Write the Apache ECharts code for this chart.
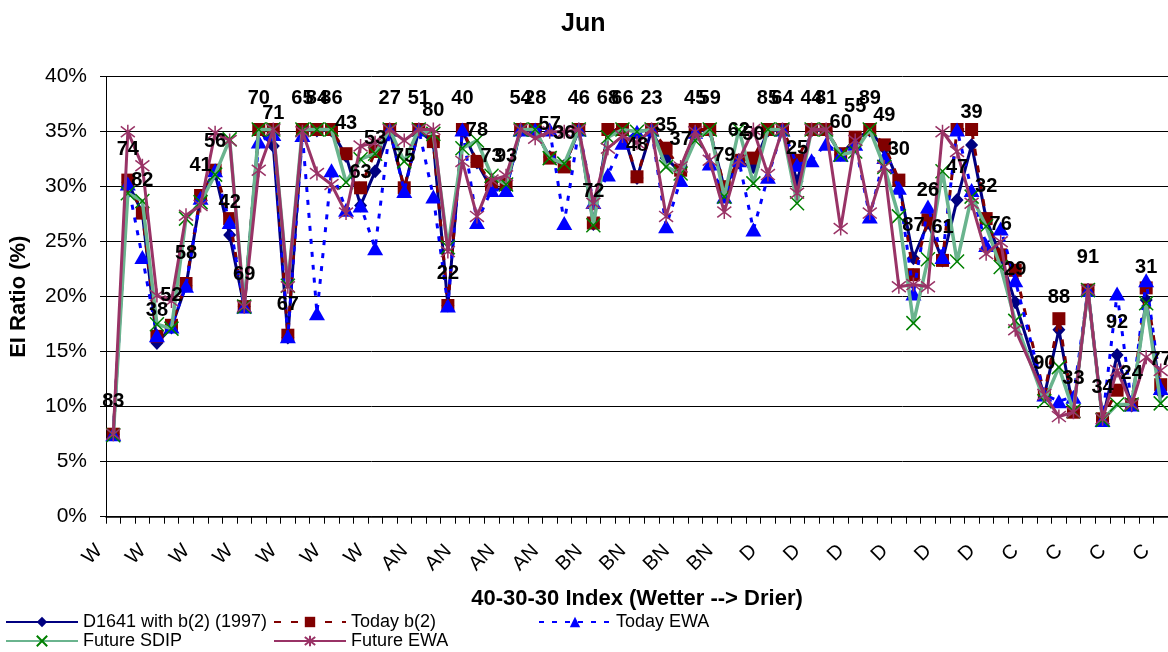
<!DOCTYPE html>
<html><head><meta charset="utf-8">
<script src="https://cdn.jsdelivr.net/npm/echarts@6/dist/echarts.min.js"></script>
<style>html,body{margin:0;padding:0;background:#fff}#c{width:1168px;height:652px}</style>
</head><body><div id="c"></div>
<script>
// Water years (two-digit) sorted by 40-30-30 index, wetter -> drier
const years = ['83','74','82','38','52','58','41','56','42','69','70','71','67','65','84','86','43','63','53','27','75',
 '51','80','22','40','78','73','93','54','28','57','36','46','72','68','66','48','23','35','37','45','59','79','62','50',
 '85','64','25','44','81','60','55','89','49','30','87','26','61','47','39','32','76','29','94','90','88','33','91','34','92','24','31','77'];
// Year type tick labels (shown every 3rd category)
const yearTypes = ['W','W','W','W','W','W','W','W','W','W','W','W','W','W','W','W','W','W','W','W','W',
 'AN','AN','AN','AN','AN','AN','AN','AN','AN','AN','AN','BN','BN','BN','BN','BN','BN','BN','BN','BN','BN','BN','BN',
 'D','D','D','D','D','D','D','D','D','D','D','D','D','D','D','D','D','D','C','C','C','C','C','C','C','C','C','C','C'];
const yTickLabels = ['0%','5%','10%','15%','20%','25%','30%','35%','40%'];
const seriesNames = ['D1641 with b(2) (1997)','Today b(2)','Today EWA','Future SDIP','Future EWA'];

const d1641 = [7.5,30.4,27.6,15.8,17.2,21.0,29.0,31.2,25.6,19.1,35.1,33.7,16.3,35.1,35.1,35.1,32.8,28.3,31.4,35.1,29.8,
 35.1,34.0,19.2,35.1,32.2,29.8,29.8,35.1,35.1,32.7,31.9,35.1,26.6,35.1,35.1,30.8,35.1,32.6,31.3,35.1,35.1,29.9,32.2,31.8,
 35.1,35.1,30.5,35.1,35.1,32.9,34.3,35.1,33.5,30.4,23.5,26.7,23.3,28.8,33.8,27.1,23.6,19.5,null,11.0,17.0,9.6,20.6,8.8,14.7,10.1,19.7,11.3];
const todayB2 = [7.5,30.6,27.6,16.4,17.4,21.2,29.2,31.5,27.1,19.1,35.2,35.2,16.5,35.2,35.2,35.2,33.0,29.9,33.2,35.2,29.9,
 35.2,34.1,19.2,35.2,32.3,30.2,30.2,35.2,35.2,32.6,31.8,35.2,26.7,35.2,35.2,30.9,35.2,33.5,31.5,35.2,35.2,30.0,32.4,32.6,
 35.2,35.2,32.4,35.2,35.2,33.0,34.5,35.2,33.8,30.6,22.0,27.0,23.3,35.2,35.2,27.1,23.8,22.4,null,11.1,18.0,9.5,20.6,8.9,11.5,10.2,20.8,12.0];
const todayEWA = [7.5,30.3,23.6,16.5,17.3,21.0,29.0,31.5,26.8,19.1,34.1,34.8,16.4,34.7,18.5,31.5,27.9,28.3,24.4,35.2,29.6,
 35.2,29.1,19.2,35.2,26.8,29.7,29.7,35.2,35.2,35.2,26.7,35.2,28.6,31.1,34.0,35.0,35.2,26.4,30.6,35.0,32.1,29.1,32.4,26.1,
 30.9,35.2,32.0,32.4,33.9,32.9,33.9,27.3,32.7,29.9,20.3,28.2,23.6,35.2,29.7,24.7,26.2,21.5,null,11.1,10.5,10.9,20.6,8.8,20.3,10.2,21.5,11.7];
const futureSDIP = [7.4,29.4,28.7,17.5,17.1,27.1,28.6,31.1,34.3,19.1,35.2,35.2,21.0,35.2,35.2,35.2,30.4,32.5,33.0,35.2,32.3,
 35.2,34.8,24.5,33.5,34.2,31.0,30.2,35.2,35.2,32.6,32.1,35.2,26.5,34.5,35.2,35.0,35.2,31.8,31.2,34.2,35.2,29.1,35.2,30.3,
 35.2,35.2,28.5,35.2,35.2,32.9,33.2,35.2,31.8,27.3,17.6,23.4,31.4,23.2,29.1,26.4,22.7,17.8,null,10.5,13.6,9.6,20.6,8.8,10.2,10.2,19.4,10.3];
const futureEWA = [7.5,35.0,31.9,20.1,19.6,27.4,28.3,34.9,34.2,19.1,31.5,35.2,20.9,35.0,31.2,30.2,27.6,33.7,34.0,35.2,34.2,
 35.2,35.2,24.1,32.3,27.3,30.6,31.0,35.2,34.4,35.0,35.0,35.2,28.5,33.5,34.6,34.0,35.2,27.3,31.8,35.0,32.4,27.7,32.4,35.2,
 31.1,35.2,29.4,35.2,35.2,26.2,34.2,27.6,31.8,20.9,21.1,20.9,35.0,33.2,28.5,23.9,25.0,17.0,null,11.1,9.1,9.5,20.6,8.9,13.3,10.2,14.5,13.3];

const F = '"Liberation Sans", Arial, Helvetica, sans-serif';
const chart = echarts.init(document.getElementById('c'), null, {renderer: 'canvas'});

const xPath = 'path://M0,0L10,10M10,0L0,10';
const starPath = 'path://M0,0L10,10M10,0L0,10M5,-1.5L5,11.5';

function legendAt(name, left, top) {
  return {
    data: [name], left: left, top: top, orient: 'horizontal',
    itemWidth: 72, itemHeight: 13, itemGap: 0, padding: 0,
    textStyle: {fontFamily: F, fontSize: 18, color: '#000', padding: [0, 0, 0, 0]},
    selectedMode: false
  };
}

const option = {
  backgroundColor: '#fff',
  animation: false,
  title: {text: 'Jun', left: 556, top: 7,
    textStyle: {fontFamily: F, fontSize: 25, fontWeight: 'bold', color: '#000'}},
  legend: [
    legendAt(seriesNames[0], 5, 613),
    legendAt(seriesNames[1], 273, 613),
    legendAt(seriesNames[2], 538, 613),
    legendAt(seriesNames[3], 5, 632),
    legendAt(seriesNames[4], 273, 632)
  ],
  grid: {left: 105.7, top: 76.7, height: 440, width: 73 * 14.59, containLabel: false},
  xAxis: {
    type: 'category', data: years, boundaryGap: true,
    name: '40-30-30 Index (Wetter --> Drier)', nameLocation: 'middle', nameGap: 71,
    nameTextStyle: {fontFamily: F, fontSize: 22, fontWeight: 'bold', color: '#000'},
    axisLine: {lineStyle: {color: '#000', width: 1.5}},
    axisTick: {show: true, interval: 0, length: 7, lineStyle: {color: '#000', width: 1}},
    axisLabel: {interval: 2, rotate: 45, margin: 17, padding: [0, 20, 0, 0],
      fontFamily: F, fontSize: 20, color: '#000',
      formatter: (v, i) => yearTypes[i]},
    splitLine: {show: false}
  },
  yAxis: {
    type: 'value', min: 0, max: 40, interval: 5,
    name: 'EI Ratio (%)', nameLocation: 'middle', nameGap: 76, nameRotate: 90,
    nameTextStyle: {fontFamily: F, fontSize: 22, fontWeight: 'bold', color: '#000'},
    axisLine: {show: true, lineStyle: {color: '#000', width: 1}},
    axisTick: {show: true, length: 6, lineStyle: {color: '#000'}},
    axisLabel: {margin: 19, fontFamily: F, fontSize: 21, color: '#000',
      formatter: v => yTickLabels[Math.round(v / 5)]},
    splitLine: {show: true, lineStyle: {color: '#000', width: 1}}
  },
  series: [
    {name: seriesNames[0], type: 'line', data: d1641, connectNulls: true, z: 2, showAllSymbol: true,
      symbol: 'diamond', symbolSize: [13, 14],
      lineStyle: {color: '#000080', width: 3}, itemStyle: {color: '#000080'}},
    {name: seriesNames[1], type: 'line', data: todayB2, connectNulls: true, z: 3, showAllSymbol: true,
      symbol: 'rect', symbolSize: 13,
      lineStyle: {color: '#800000', width: 3, type: [7, 10]}, itemStyle: {color: '#800000'}},
    {name: seriesNames[2], type: 'line', data: todayEWA, connectNulls: true, z: 4, showAllSymbol: true,
      symbol: 'triangle', symbolSize: [16, 14],
      lineStyle: {color: '#0000ff', width: 3, type: [5, 8]}, itemStyle: {color: '#0000ff'}},
    {name: seriesNames[3], type: 'line', data: futureSDIP, connectNulls: true, z: 5, showAllSymbol: true,
      symbol: xPath, symbolSize: 14,
      lineStyle: {color: '#6ab48e', width: 3.5},
      itemStyle: {color: '#008000', borderColor: '#008000', borderWidth: 1.5}},
    {name: seriesNames[4], type: 'line', data: futureEWA, connectNulls: true, z: 6, showAllSymbol: true,
      symbol: starPath, symbolSize: 14,
      lineStyle: {color: '#993366', width: 3},
      itemStyle: {color: '#993366', borderColor: '#993366', borderWidth: 1.5}},
    {name: 'labels', type: 'scatter', data: d1641, z: 10, silent: true,
      symbol: 'rect', symbolSize: 13, itemStyle: {color: 'rgba(0,0,0,0)'},
      label: {show: true, position: 'top', distance: 16, fontFamily: F, fontSize: 20, fontWeight: 'bold',
        color: '#000', opacity: 1, formatter: p => years[p.dataIndex]}}
  ]
};
chart.setOption(option);
</script>
</body></html>
